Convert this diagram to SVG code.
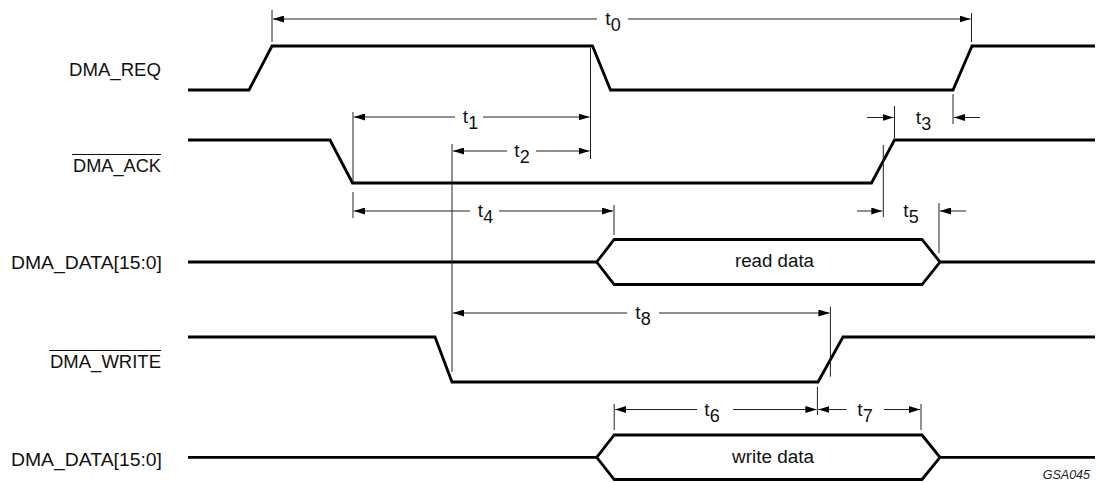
<svg xmlns="http://www.w3.org/2000/svg" width="1098" height="482" viewBox="0 0 1098 482">
<style>
.sig{fill:none;stroke:#000;stroke-width:2.8;stroke-linejoin:miter}
.dim{fill:none;stroke:#222;stroke-width:1;marker-end:url(#ah)}
.tick{fill:none;stroke:#222;stroke-width:1}
.lbl{font-family:"Liberation Sans",Arial,sans-serif;font-size:18px;fill:#111;text-anchor:end}
.tl{font-family:"Liberation Sans",Arial,sans-serif;font-size:19px;fill:#111;text-anchor:middle}
.sub{font-size:18px}
.bus{font-family:"Liberation Sans",Arial,sans-serif;font-size:18px;fill:#111;text-anchor:middle}
.ov{stroke:#111;stroke-width:1}
</style>
<defs>
<marker id="ah" viewBox="0 0 11 7" refX="11" refY="3.5" markerWidth="11" markerHeight="7" markerUnits="userSpaceOnUse" orient="auto">
<path d="M0,0 L11,3.5 L0,7 z" fill="#000"/>
</marker>
</defs>
<rect width="1098" height="482" fill="#fff"/>
<g id="labels">
<text class="lbl" x="161" y="76" textLength="92" lengthAdjust="spacingAndGlyphs">DMA_REQ</text>
<text class="lbl" x="161" y="172" textLength="88" lengthAdjust="spacingAndGlyphs">DMA_ACK</text>
<line class="ov" x1="72" y1="154.5" x2="161" y2="154.5"/>
<text class="lbl" x="162" y="269" textLength="151" lengthAdjust="spacingAndGlyphs">DMA_DATA[15:0]</text>
<text class="lbl" x="161" y="368" textLength="111" lengthAdjust="spacingAndGlyphs">DMA_WRITE</text>
<line class="ov" x1="49" y1="350.5" x2="161" y2="350.5"/>
<text class="lbl" x="162" y="466" textLength="151" lengthAdjust="spacingAndGlyphs">DMA_DATA[15:0]</text>
</g>
<g id="signals">
<path id="dma_req" class="sig" d="M188,90 H249 L272,46 H592.5 L610.5,90 H953 L972,46 H1095"/>
<path id="dma_ack" class="sig" d="M188,140 H330 L352.5,183 H871.5 L894.5,140 H1095"/>
<g id="read_data">
<path class="sig" d="M188,262 H596.7 M940,262 H1095"/>
<path class="sig" d="M596.7,262 L614.2,239.5 H922 L940,262 L922,284.5 H614.2 Z"/>
<text class="bus" x="774.5" y="267" textLength="79" lengthAdjust="spacingAndGlyphs">read data</text>
</g>
<path id="dma_write" class="sig" d="M188,337 H435 L452,382 H818 L843,337 H1095"/>
<g id="write_data">
<path class="sig" d="M188,457.3 H596.7 M940,457.3 H1095"/>
<path class="sig" d="M596.7,457.3 L614.2,435 H922 L940,457.3 L922,479.5 H614.2 Z"/>
<text class="bus" x="773" y="463" textLength="82" lengthAdjust="spacingAndGlyphs">write data</text>
</g>
</g>
<g id="connectors">
<line class="tick" x1="272" y1="10" x2="272" y2="42"/>
<line class="tick" x1="971.5" y1="13" x2="971.5" y2="42"/>
<line class="tick" x1="353" y1="112" x2="353" y2="183"/>
<line class="tick" x1="590.5" y1="48" x2="590.5" y2="159"/>
<line class="tick" x1="452" y1="144" x2="452" y2="372"/>
<line class="tick" x1="894.5" y1="106" x2="894.5" y2="138"/>
<line class="tick" x1="953" y1="94" x2="953" y2="124"/>
<line class="tick" x1="353" y1="192" x2="353" y2="218"/>
<line class="tick" x1="614" y1="205" x2="614" y2="235"/>
<line class="tick" x1="883.3" y1="145" x2="883.3" y2="217"/>
<line class="tick" x1="939" y1="203" x2="939" y2="253"/>
<line class="tick" x1="830.4" y1="306.7" x2="830.4" y2="376.7"/>
<line class="tick" x1="614.2" y1="404" x2="614.2" y2="430"/>
<line class="tick" x1="817.4" y1="386.7" x2="817.4" y2="415"/>
<line class="tick" x1="921" y1="404" x2="921" y2="430"/>
<line class="dim" x1="597" y1="19" x2="273" y2="19"/>
<line class="dim" x1="628" y1="19" x2="970.5" y2="19"/>
<line class="dim" x1="455" y1="117" x2="354" y2="117"/>
<line class="dim" x1="483" y1="117" x2="589.5" y2="117"/>
<line class="dim" x1="507" y1="151" x2="453" y2="151"/>
<line class="dim" x1="536" y1="151" x2="589.5" y2="151"/>
<line class="dim" x1="867" y1="117.5" x2="893.5" y2="117.5"/>
<line class="dim" x1="980" y1="117.5" x2="954" y2="117.5"/>
<line class="dim" x1="470" y1="211" x2="354" y2="211"/>
<line class="dim" x1="499" y1="211" x2="613" y2="211"/>
<line class="dim" x1="857" y1="211" x2="882.3" y2="211"/>
<line class="dim" x1="966" y1="211" x2="940" y2="211"/>
<line class="dim" x1="627" y1="313" x2="453" y2="313"/>
<line class="dim" x1="659" y1="313" x2="829.4" y2="313"/>
<line class="dim" x1="697" y1="409.5" x2="615.2" y2="409.5"/>
<line class="dim" x1="733" y1="409.5" x2="816.4" y2="409.5"/>
<line class="dim" x1="846.5" y1="409.5" x2="818.4" y2="409.5"/>
<line class="dim" x1="884" y1="409.5" x2="920" y2="409.5"/>
</g>
<g id="timing_labels">
<text class="tl" x="613" y="25">t<tspan class="sub" dy="6">0</tspan></text>
<text class="tl" x="470.5" y="123">t<tspan class="sub" dy="6">1</tspan></text>
<text class="tl" x="522" y="157">t<tspan class="sub" dy="6">2</tspan></text>
<text class="tl" x="923.5" y="123.5">t<tspan class="sub" dy="6">3</tspan></text>
<text class="tl" x="485.5" y="217">t<tspan class="sub" dy="6">4</tspan></text>
<text class="tl" x="911" y="217">t<tspan class="sub" dy="6">5</tspan></text>
<text class="tl" x="712" y="415.5">t<tspan class="sub" dy="6">6</tspan></text>
<text class="tl" x="865" y="415.5">t<tspan class="sub" dy="6">7</tspan></text>
<text class="tl" x="643" y="319">t<tspan class="sub" dy="6">8</tspan></text>
</g>
<text x="1090" y="479" font-family="'Liberation Sans',Arial,sans-serif" font-size="12.5" font-style="italic" fill="#222" text-anchor="end">GSA045</text>
</svg>
